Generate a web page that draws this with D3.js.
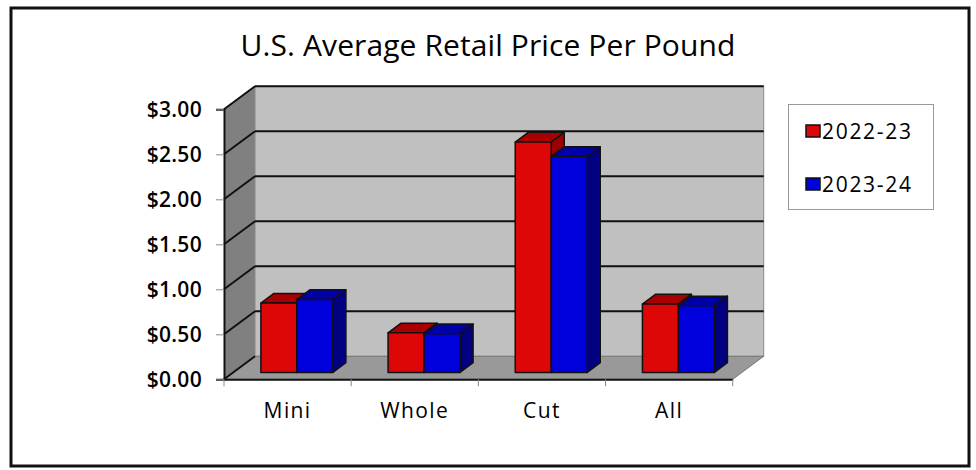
<!DOCTYPE html>
<html>
<head>
<meta charset="utf-8">
<script src="https://cdn.jsdelivr.net/npm/d3@7"></script>
<style>
  body { margin: 0; background: #fff; }
  svg text { font-family: "Open Sans", "Noto Sans", sans-serif; fill: #000; }
</style>
</head>
<body>
<div id="graph"></div>
<script>
var categories = ['Mini', 'Whole', 'Cut', 'All'];
var seriesNames = ['2022-23', '2023-24'];
var prices2022 = [0.77, 0.44, 2.56, 0.76];
var prices2023 = [0.81, 0.43, 2.40, 0.74];
var yTicks = [0, 0.5, 1, 1.5, 2, 2.5, 3];
var title = 'U.S. Average Retail Price Per Pound';

var width = 976, height = 470;
var depth = { dx: 31, dy: -23 };   // how far the back wall sits from the front plane
var barFront = 0.3, barBack = 0.72; // bars sit in the middle of the depth

var colors = {
  front: ['#dd0707', '#0000dd'],
  top:   ['#a80000', '#0000a8'],
  side:  ['#990000', '#000080']
};

var svg = d3.select('#graph').append('svg')
    .attr('width', width).attr('height', height);

// outer frame
svg.append('rect')
    .attr('x', 11).attr('y', 8).attr('width', 958).attr('height', 458)
    .attr('fill', 'none').attr('stroke', '#111').attr('stroke-width', 3);

svg.append('text')
    .attr('x', 488).attr('y', 56)
    .attr('text-anchor', 'middle')
    .style('font-size', '30px').style('font-weight', 500)
    .style('letter-spacing', '0.1px')
    .text(title);

var x0 = d3.scaleBand().domain(categories).range([224, 732.7]);
var groupW = x0.bandwidth() * 0.566;
var x1 = d3.scaleBand().domain(seriesNames).range([0, groupW]);
var y = d3.scaleLinear().domain([0, 3]).range([379.3, 109.3]);

// don't call these top/left, window.top is taken
var pL = 224, pR = 732.7, pB = y(0), pT = y(3);

function pts(arr) { return arr.map(function(p) { return p.join(','); }).join(' '); }

// walls + floor
svg.append('polygon')
    .attr('points', pts([[pL, pT], [pL + depth.dx, pT + depth.dy],
      [pL + depth.dx, pB + depth.dy], [pL, pB]]))
    .attr('fill', '#808080');
svg.append('rect')
    .attr('x', pL + depth.dx).attr('y', pT + depth.dy)
    .attr('width', pR - pL).attr('height', pB - pT)
    .attr('fill', '#c0c0c0').attr('stroke', '#888').attr('stroke-width', 1);
svg.append('polygon')
    .attr('points', pts([[pL, pB], [pR, pB],
      [pR + depth.dx, pB + depth.dy], [pL + depth.dx, pB + depth.dy]]))
    .attr('fill', '#999').attr('stroke', '#777').attr('stroke-width', 1);

// gridlines on back wall and left wall
var grid = svg.append('g');
grid.selectAll('line.back').data(yTicks.filter(function(d) { return d > 0; }))
  .enter().append('line').attr('class', 'back')
    .attr('x1', pL + depth.dx).attr('x2', pR + depth.dx)
    .attr('y1', function(d) { return y(d) + depth.dy; })
    .attr('y2', function(d) { return y(d) + depth.dy; })
    .attr('stroke', '#111').attr('stroke-width', 2);
grid.selectAll('line.side').data(yTicks)
  .enter().append('line').attr('class', 'side')
    .attr('x1', pL).attr('x2', pL + depth.dx)
    .attr('y1', function(d) { return y(d); })
    .attr('y2', function(d) { return y(d) + depth.dy; })
    .attr('stroke', '#111').attr('stroke-width', 2);

// value axis
var yAxis = d3.axisLeft(y).tickValues(yTicks).tickSize(8).tickPadding(14)
    .tickFormat(function(d) { return '$' + d3.format('.2f')(d); });
var yg = svg.append('g').attr('transform', 'translate(' + pL + ',0)').call(yAxis);
yg.select('.domain').attr('stroke', '#111').attr('stroke-width', 2);
yg.selectAll('.tick line').attr('stroke', '#888');
yg.selectAll('text').style('font-size', '21px').style('font-weight', 600)
    .style('letter-spacing', '0.3px')
    .attr('font-family', null).attr('dy', '0.36em');

// category axis
var xAxis = d3.axisBottom(x0).tickSize(0).tickPadding(24);
var xg = svg.append('g').attr('transform', 'translate(0,' + pB + ')').call(xAxis);
xg.select('.domain').attr('stroke', '#111').attr('stroke-width', 2);
xg.selectAll('text').style('font-size', '21px').style('font-weight', 500)
    .style('letter-spacing', '1.4px').attr('font-family', null);
xg.selectAll('line.cut').data(categories.concat([null]))
  .enter().append('line').attr('class', 'cut')
    .attr('x1', function(d, i) { return pL + i * x0.step(); })
    .attr('x2', function(d, i) { return pL + i * x0.step(); })
    .attr('y1', 0).attr('y2', 7)
    .attr('stroke', '#888');

// bars
var fdx = depth.dx * barFront, fdy = depth.dy * barFront;
var bdx = depth.dx * (barBack - barFront), bdy = depth.dy * (barBack - barFront);
var data = [prices2022, prices2023];

var bars = svg.append('g');
categories.forEach(function(cat, ci) {
  seriesNames.forEach(function(s, si) {
    var v = data[si][ci];
    var xl = x0(cat) + (x0.bandwidth() - groupW) / 2 + x1(s) + fdx;
    var xr = xl + x1.bandwidth();
    var yt = y(v) + fdy, yb = y(0) + fdy;
    var g = bars.append('g').attr('stroke', '#111').attr('stroke-width', 1.5)
        .attr('stroke-linejoin', 'round');
    g.append('polygon').attr('fill', colors.top[si])
        .attr('points', pts([[xl, yt], [xr, yt], [xr + bdx, yt + bdy], [xl + bdx, yt + bdy]]));
    g.append('polygon').attr('fill', colors.side[si])
        .attr('points', pts([[xr, yt], [xr + bdx, yt + bdy], [xr + bdx, yb + bdy], [xr, yb]]));
    g.append('rect').attr('fill', colors.front[si])
        .attr('x', xl).attr('y', yt).attr('width', xr - xl).attr('height', yb - yt);
  });
});

// legend
var legend = svg.append('g');
legend.append('rect')
    .attr('x', 788.5).attr('y', 104.5).attr('width', 145).attr('height', 105)
    .attr('fill', '#fff').attr('stroke', '#999');
var items = legend.selectAll('g.item').data(seriesNames)
  .enter().append('g').attr('class', 'item')
    .attr('transform', function(d, i) { return 'translate(806,' + (131 + i * 53) + ')'; });
items.append('rect')
    .attr('x', 0).attr('y', -6).attr('width', 14).attr('height', 12)
    .attr('fill', function(d, i) { return colors.front[i]; })
    .attr('stroke', '#111').attr('stroke-width', 1.5);
items.append('text')
    .attr('x', 16).attr('dy', '0.36em')
    .style('font-size', '21px').style('font-weight', 500)
    .style('letter-spacing', '1.7px')
    .text(function(d) { return d; });
</script>
</body>
</html>
